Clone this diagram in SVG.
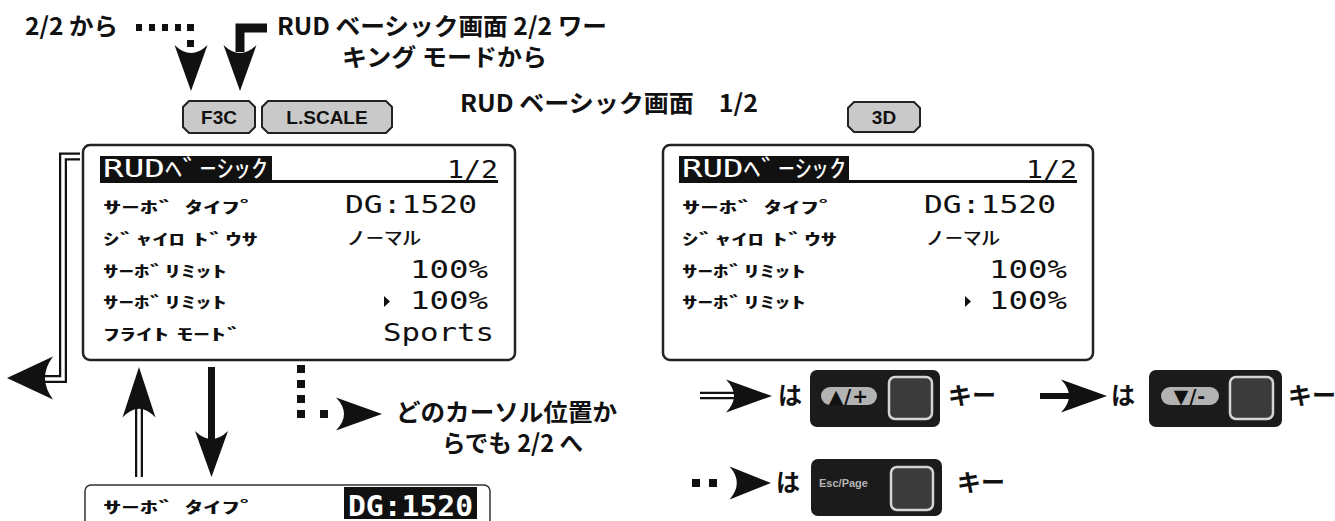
<svg xmlns="http://www.w3.org/2000/svg" width="1335" height="521" viewBox="0 0 1335 521">
<style>
.h{font-family:"Noto Sans CJK JP","Noto Sans",sans-serif;font-weight:700;font-size:24px;fill:#111}
.lk{font-family:"Noto Sans CJK JP",sans-serif;font-weight:700;font-size:16px;fill:#111}
.lv{font-family:"DejaVu Sans Mono","Noto Sans CJK JP",monospace;font-size:24px;fill:#111}
.btn{fill:#c9c9c9;stroke:#222;stroke-width:2}
.bt{font-family:"Liberation Sans",Arial,sans-serif;font-weight:700;font-size:19px;text-anchor:middle;fill:#111}
.scr{fill:#fff;stroke:#222;stroke-width:2.5}
.key{fill:#1b1b1b}
.pill{fill:#b3b3b3}
.kb{fill:#3b3b3b;stroke:#d4d4d4;stroke-width:2.5}
.pt{font-family:"DejaVu Sans",sans-serif;font-weight:700;font-size:19px;text-anchor:middle;fill:#111}
.blk{fill:#111}
.dbo{fill:none;stroke:#111;stroke-width:8}
.dbi{fill:none;stroke:#fff;stroke-width:3.5}
.sol{fill:none;stroke:#111}
</style>
<defs>
<path id="ah" d="M0 0 L-46 -16.5 Q-30 0 -46 16.5 Z"/>
</defs>

<!-- headings -->
<g id="lbl-from22"><text class="h" x="25" y="35" textLength="93" lengthAdjust="spacingAndGlyphs">2/2 から</text></g>
<g id="lbl-fromwork">
<text class="h" x="277" y="35" textLength="330" lengthAdjust="spacingAndGlyphs">RUD ベーシック画面 2/2 ワー</text>
<text class="h" x="342" y="66" textLength="205" lengthAdjust="spacingAndGlyphs">キング モードから</text>
</g>
<g id="lbl-title"><text class="h" x="460" y="112" textLength="298" lengthAdjust="spacingAndGlyphs">RUD ベーシック画面　1/2</text></g>
<g id="lbl-any">
<text class="h" x="396" y="421" textLength="221" lengthAdjust="spacingAndGlyphs">どのカーソル位置か</text>
<text class="h" x="442" y="452" textLength="141" lengthAdjust="spacingAndGlyphs">らでも 2/2 へ</text>
</g>

<!-- mode buttons -->
<g id="btn-f3c"><path class="btn" d="M189 101H249L255 107V127L249 133H189L183 127V107Z"/><text class="bt" x="219" y="124">F3C</text></g>
<g id="btn-lscale"><path class="btn" d="M268 101H386L392 107V127L386 133H268L262 127V107Z"/><text class="bt" x="327" y="124">L.SCALE</text></g>
<g id="btn-3d"><path class="btn" d="M854 102H914L920 108V126L914 132H854L848 126V108Z"/><text class="bt" x="884" y="124">3D</text></g>

<!-- left screen -->
<g id="screen-left">
<rect class="scr" x="83" y="145" width="432" height="215" rx="7"/>
<rect class="blk" x="100" y="156" width="172" height="24"/>
<text class="lv" x="103" y="177" style="fill:#fff" textLength="165" lengthAdjust="spacingAndGlyphs">RUDﾍﾞｰｼｯｸ</text>
<text class="lv" x="447" y="178" textLength="51" lengthAdjust="spacingAndGlyphs">1/2</text>
<rect class="blk" x="100" y="180" width="398" height="3"/>
<text class="lk" x="103" y="213" textLength="155" lengthAdjust="spacingAndGlyphs">ｻｰﾎﾞ  ﾀｲﾌﾟ</text>
<text class="lv" x="345" y="213" textLength="132" lengthAdjust="spacingAndGlyphs">DG:1520</text>
<text class="lk" x="103" y="245" textLength="155" lengthAdjust="spacingAndGlyphs">ｼﾞｬｲﾛ ﾄﾞｳｻ</text>
<text class="lk" x="347" y="245" style="font-size:19px;font-weight:400" textLength="74" lengthAdjust="spacingAndGlyphs">ﾉｰﾏﾙ</text>
<text class="lk" x="103" y="277" textLength="124" lengthAdjust="spacingAndGlyphs">ｻｰﾎﾞﾘﾐｯﾄ</text>
<text class="lv" x="410" y="278" textLength="78" lengthAdjust="spacingAndGlyphs">100%</text>
<text class="lk" x="103" y="308" textLength="124" lengthAdjust="spacingAndGlyphs">ｻｰﾎﾞﾘﾐｯﾄ</text>
<polygon class="blk" points="384,296 390,301.5 384,307"/>
<text class="lv" x="410" y="309" textLength="78" lengthAdjust="spacingAndGlyphs">100%</text>
<text class="lk" x="103" y="340" textLength="140" lengthAdjust="spacingAndGlyphs">ﾌﾗｲﾄ ﾓｰﾄﾞ</text>
<text class="lv" x="383" y="341" textLength="111" lengthAdjust="spacingAndGlyphs">Sports</text>
</g>

<!-- right screen -->
<g id="screen-right" transform="translate(579,0)">
<rect class="scr" x="84" y="145" width="430" height="215" rx="7"/>
<rect class="blk" x="100" y="156" width="170" height="24"/>
<text class="lv" x="103" y="177" style="fill:#fff" textLength="164" lengthAdjust="spacingAndGlyphs">RUDﾍﾞｰｼｯｸ</text>
<text class="lv" x="447" y="178" textLength="51" lengthAdjust="spacingAndGlyphs">1/2</text>
<rect class="blk" x="100" y="180" width="398" height="3"/>
<text class="lk" x="103" y="213" textLength="155" lengthAdjust="spacingAndGlyphs">ｻｰﾎﾞ  ﾀｲﾌﾟ</text>
<text class="lv" x="345" y="213" textLength="132" lengthAdjust="spacingAndGlyphs">DG:1520</text>
<text class="lk" x="103" y="245" textLength="155" lengthAdjust="spacingAndGlyphs">ｼﾞｬｲﾛ ﾄﾞｳｻ</text>
<text class="lk" x="347" y="245" style="font-size:19px;font-weight:400" textLength="74" lengthAdjust="spacingAndGlyphs">ﾉｰﾏﾙ</text>
<text class="lk" x="103" y="277" textLength="124" lengthAdjust="spacingAndGlyphs">ｻｰﾎﾞﾘﾐｯﾄ</text>
<text class="lv" x="410" y="278" textLength="78" lengthAdjust="spacingAndGlyphs">100%</text>
<text class="lk" x="103" y="308" textLength="124" lengthAdjust="spacingAndGlyphs">ｻｰﾎﾞﾘﾐｯﾄ</text>
<polygon class="blk" points="386,296 392,301.5 386,307"/>
<text class="lv" x="410" y="309" textLength="78" lengthAdjust="spacingAndGlyphs">100%</text>
</g>

<!-- bottom strip -->
<g id="screen-strip">
<rect x="85" y="485" width="405" height="60" rx="6" fill="#fff" stroke="#333" stroke-width="1.5"/>
<text class="lk" x="103" y="513" textLength="155" lengthAdjust="spacingAndGlyphs">ｻｰﾎﾞ  ﾀｲﾌﾟ</text>
<rect class="blk" x="344" y="487" width="133" height="32"/>
<text class="lv" x="348" y="516" style="fill:#fff;font-size:28px;font-weight:700" textLength="125" lengthAdjust="spacingAndGlyphs">DG:1520</text>
</g>

<!-- legend keys -->
<g id="legend-up">
<text class="h" x="778" y="404">は</text>
<rect class="key" x="810" y="370" width="130" height="57" rx="7"/>
<rect class="pill" x="821" y="387" width="56" height="18" rx="9"/>
<text class="pt" x="849" y="402.5" letter-spacing="1">▲/+</text>
<rect class="kb" x="889" y="377" width="43" height="42" rx="6"/>
<text class="h" x="948" y="404">キー</text>
</g>
<g id="legend-down">
<text class="h" x="1111" y="404">は</text>
<rect class="key" x="1149" y="370" width="133" height="57" rx="7"/>
<rect class="pill" x="1161" y="387" width="58" height="18" rx="9"/>
<text class="pt" x="1190" y="402.5" letter-spacing="1">▼/-</text>
<rect class="kb" x="1230" y="377" width="43" height="42" rx="6"/>
<text class="h" x="1288" y="404">キー</text>
</g>
<g id="legend-esc">
<text class="h" x="776" y="491">は</text>
<rect class="key" x="811" y="459" width="131" height="57" rx="7"/>
<text x="819" y="487" font-family="Liberation Sans, Arial, sans-serif" font-weight="700" font-size="11" fill="#b5b5b5">Esc/Page</text>
<rect class="kb" x="891" y="467" width="42" height="43" rx="6"/>
<text class="h" x="957" y="491">キー</text>
</g>

<!-- connectors -->
<g id="connectors">
<g class="blk">
<rect x="136" y="24" width="6" height="7"/><rect x="149" y="24" width="6" height="7"/><rect x="162" y="24" width="6" height="7"/><rect x="175" y="24" width="6" height="7"/><rect x="187" y="24" width="7" height="7"/><rect x="187" y="40" width="7" height="7"/>
<use href="#ah" transform="translate(191,91) rotate(90)"/>
</g>
<path class="sol" d="M267 28H240V52" stroke-width="9"/>
<use href="#ah" class="blk" transform="translate(240,91) rotate(90)"/>
<path class="dbo" d="M80 156.5H63V379H38"/>
<path class="dbi" d="M80 156.5H63V379H42"/>
<use href="#ah" class="blk" transform="translate(7,378) rotate(180) scale(1,1.3)"/>
<path class="dbo" d="M139 477V405"/>
<path class="dbi" d="M139 477V408"/>
<use href="#ah" class="blk" transform="translate(139,367) rotate(-90) scale(1.1,1)"/>
<path class="sol" d="M211.5 367V440" stroke-width="7"/>
<use href="#ah" class="blk" transform="translate(211.5,477) rotate(90)"/>
<g class="blk">
<rect x="297" y="365" width="8" height="8"/><rect x="297" y="380" width="8" height="8"/><rect x="297" y="395" width="8" height="8"/><rect x="297" y="410" width="8" height="8"/><rect x="320" y="410" width="8" height="8"/>
<use href="#ah" transform="translate(382,414)"/>
</g>
<path class="sol" d="M700 395.5H740" stroke-width="7.5"/>
<path d="M700 395.5H738" stroke="#fff" stroke-width="3"/>
<use href="#ah" class="blk" transform="translate(772,396)"/>
<path class="sol" d="M1040 396H1075" stroke-width="6"/>
<use href="#ah" class="blk" transform="translate(1107,396)"/>
<g class="blk">
<rect x="692" y="479" width="8" height="8"/><rect x="709" y="479" width="8" height="8"/>
<use href="#ah" transform="translate(771,483) scale(0.9,1)"/>
</g>
</g>
</svg>
